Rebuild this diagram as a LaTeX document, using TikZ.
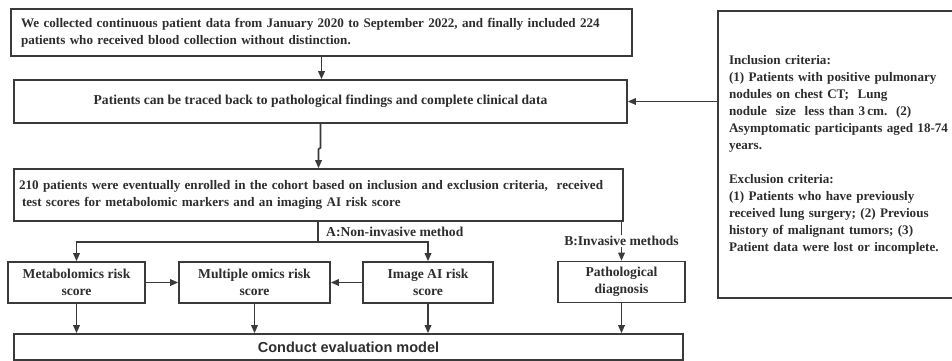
\documentclass[tikz,border=0pt]{standalone}
\usepackage{fontspec}
\setmainfont{Liberation Serif}
\setsansfont{Liberation Sans}
\usepackage{tikz}
\usetikzlibrary{arrows.meta, positioning, calc}
\definecolor{flowgray}{RGB}{58,58,58}
\definecolor{textgray}{RGB}{45,45,45}

\tikzset{
	flowbox/.style={draw=flowgray, line width=1.6pt, rectangle, inner sep=0pt,
		text=textgray, font=\fontsize{13.6}{17}\selectfont\bfseries, align=center},
	longbox/.style={flowbox, font=\fontsize{13.1}{17}\selectfont\bfseries},
	flowline/.style={draw=flowgray, line width=1.6pt, -{Triangle[length=8pt,width=6.5pt]}},
	flowlabel/.style={text=textgray, inner sep=1pt, font=\fontsize{13.6}{15}\selectfont\bfseries},
}

\begin{document}
\begin{tikzpicture}[x=1pt, y=-1pt]
	\useasboundingbox (0,0) rectangle (952,361);
	% top of the flow
	\node (collect) at (321.5,32.5) [longbox, minimum width=621pt, minimum height=47pt, text width=601pt, align=left]
		{We collected continuous patient data from January 2020 to September 2022, and finally included 224\\
		patients who received blood collection without distinction.};
	\node (trace) at (320.5,101.5) [flowbox, minimum width=613pt, minimum height=43pt]
		{Patients can be traced back to pathological findings and complete clinical data};
	\node (enroll) at (318.5,195) [longbox, minimum width=609pt, minimum height=52pt, text width=599pt, align=left]
		{210 patients were eventually enrolled in the cohort based on inclusion and exclusion criteria,\ \ received\\
		\hspace{3pt}test scores for metabolomic markers and an imaging AI risk score};
	% criteria on the right
	\node (crit) at (849,154.5) [longbox, minimum width=262pt, minimum height=287pt, text width=240pt, align=left]
		{Inclusion criteria:\\
		(1) Patients with positive pulmonary\\
		nodules on chest CT;\ \ Lung\\
		nodule\ \ size\ \ less than 3\,cm.\ \ (2)\\
		Asymptomatic participants aged 18-74\\
		years.\\[17pt]
		Exclusion criteria:\\
		(1) Patients who have previously\\
		received lung surgery; (2) Previous\\
		history of malignant tumors; (3)\\
		Patient data were lost or incomplete.};
	% score boxes
	\node (metab) at (76.5,282.5) [flowbox, minimum width=137pt, minimum height=41pt] {Metabolomics risk\\score};
	\node (multi) at (254.5,282.5) [flowbox, minimum width=151pt, minimum height=41pt] {Multiple omics risk\\score};
	\node (image) at (428,282.5) [flowbox, minimum width=130pt, minimum height=41pt] {Image AI risk\\score};
	\node (patho) at (621.5,282) [flowbox, minimum width=127pt, minimum height=41pt] {Pathological\\diagnosis};
	\node (model) at (348.5,347) [flowbox, minimum width=669pt, minimum height=26pt, font=\fontsize{14.5}{16}\selectfont\sffamily\bfseries]
		{Conduct evaluation model};
	\coordinate (split) at (318,242);
	\node (nonlab) at (325,232) [flowlabel, anchor=west] {A:Non-invasive method};

	\path[flowline] (collect.south) -- (collect.south |- trace.north);
	\path[flowline] (trace.south) -- ++(0,24) -- ($(enroll.north)+(0,-19)$) -- (enroll.north);
	\path[flowline] (crit.west |- trace.east) -- (trace.east);
	\path[draw=flowgray, line width=1.6pt] (enroll.south -| split) -- (split);
	\path[flowline] (split) -| (metab.north);
	\path[flowline] (split) -| (image.north);
	\path[flowline] (enroll.south -| patho.north) -- node[flowlabel, fill=white] {B:Invasive methods} (patho.north);
	\path[flowline] (metab.east) -- (multi.west);
	\path[flowline] (image.west) -- (multi.east);
	\foreach \n in {metab, multi, image, patho}
		\path[flowline] (\n.south) -- (\n.south |- model.north);
\end{tikzpicture}
\end{document}
